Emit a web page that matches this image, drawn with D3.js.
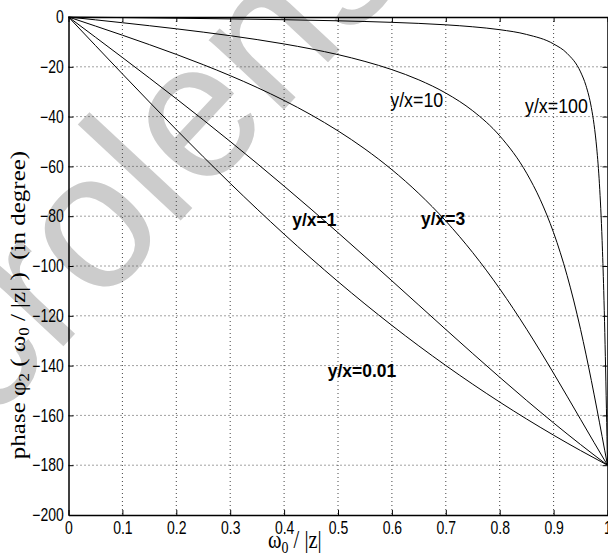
<!DOCTYPE html>
<html>
<head>
<meta charset="utf-8">
<script src="https://cdn.jsdelivr.net/npm/d3@7"></script>
<style>
  body { margin: 0; background: #fff; }
  svg { display: block; }
  text { white-space: pre; }
</style>
</head>
<body>
<svg id="chart" width="608" height="556"></svg>
<script>
// ---------- data ----------
const xTicks = [0, 0.1, 0.2, 0.3, 0.4, 0.5, 0.6, 0.7, 0.8, 0.9, 1];
const xTickLabels = ["0", "0.1", "0.2", "0.3", "0.4", "0.5", "0.6", "0.7", "0.8", "0.9", "1"];
const yTicks = [-200, -180, -160, -140, -120, -100, -80, -60, -40, -20, 0];
const yTickLabels = ["\u2212200", "\u2212180", "\u2212160", "\u2212140", "\u2212120", "\u2212100", "\u221280", "\u221260", "\u221240", "\u221220", "0"];

const seriesNames = ["y/x=0.01", "y/x=1", "y/x=3", "y/x=10", "y/x=100"];

const u_r001 = [0, 0.05, 0.1, 0.15, 0.2, 0.25, 0.3, 0.35, 0.4, 0.45, 0.5, 0.55, 0.6, 0.65, 0.7, 0.75, 0.8, 0.85, 0.9, 0.95, 1];
const phi_r001 = [0, -11.45, -22.84, -34.12, -45.24, -56.14, -66.80, -77.16, -87.21, -96.91, -106.26, -115.24, -123.86, -132.10, -139.97, -147.48, -154.64, -161.46, -167.95, -174.12, -180];

const u_r1 = [0, 0.05, 0.1, 0.15, 0.2, 0.25, 0.3, 0.35, 0.4, 0.45, 0.5, 0.55, 0.6, 0.65, 0.7, 0.75, 0.8, 0.85, 0.9, 0.95, 1];
const phi_r1 = [0, -8.11, -16.26, -24.49, -32.83, -41.32, -49.99, -58.85, -67.92, -77.17, -86.62, -96.23, -105.95, -115.72, -125.49, -135.17, -144.69, -154.00, -163.02, -171.70, -180];

const u_r3 = [0, 0.05, 0.1, 0.15, 0.2, 0.25, 0.3, 0.35, 0.4, 0.45, 0.5, 0.55, 0.6, 0.65, 0.7, 0.75, 0.8, 0.85, 0.9, 0.925, 0.95, 0.975, 1];
const phi_r3 = [0, -3.63, -7.31, -11.09, -15.01, -19.15, -23.56, -28.32, -33.52, -39.28, -45.73, -53.01, -61.33, -70.90, -81.92, -94.63, -109.13, -125.39, -143.08, -152.27, -161.57, -170.84, -180];

const u_r10 = [0, 0.05, 0.1, 0.15, 0.2, 0.25, 0.3, 0.35, 0.4, 0.45, 0.5, 0.55, 0.6, 0.65, 0.7, 0.75, 0.8, 0.85, 0.875, 0.9, 0.925, 0.95, 0.96, 0.97, 0.98, 0.99, 0.995, 1];
const phi_r10 = [0, -1.14, -2.30, -3.50, -4.75, -6.08, -7.51, -9.08, -10.83, -12.81, -15.11, -17.84, -21.14, -25.25, -30.56, -37.68, -47.71, -62.73, -73.23, -86.62, -103.79, -125.44, -135.38, -145.96, -157.04, -168.46, -174.23, -180];

const u_r100 = [0, 0.1, 0.2, 0.3, 0.4, 0.5, 0.6, 0.7, 0.75, 0.8, 0.85, 0.9, 0.925, 0.95, 0.96, 0.97, 0.975, 0.98, 0.985, 0.99, 0.993, 0.995, 0.997, 0.998, 0.999, 1];
const phi_r100 = [0, -0.23, -0.48, -0.76, -1.09, -1.53, -2.15, -3.14, -3.93, -5.09, -7.01, -10.82, -14.60, -22.05, -27.52, -36.34, -43.10, -52.66, -66.98, -89.71, -109.82, -126.75, -146.55, -157.36, -168.57, -180];

const seriesU = [u_r001, u_r1, u_r3, u_r10, u_r100];
const seriesPhi = [phi_r001, phi_r1, phi_r3, phi_r10, phi_r100];

// curve labels
const labelText = ["y/x=0.01", "y/x=1", "y/x=3", "y/x=10", "y/x=100"];
const labelU = [0.481, 0.415, 0.654, 0.597, 0.847];
const labelPhi = [-144.6, -84.0, -83.6, -36.2, -38.6];
const labelBold = [true, true, true, false, false];

const watermark = "crolens";

// ---------- chart ----------
const svg = d3.select("#chart");
const x = d3.scaleLinear().domain([0, 1]).range([68.5, 607.5]);
const y = d3.scaleLinear().domain([-200, 0]).range([515, 17]);

// watermark (behind everything)
svg.append("text")
  .attr("transform", "translate(-12,427) rotate(-47)")
  .attr("font-family", "'Liberation Sans', Arial, sans-serif")
  .attr("font-size", 194)
  .attr("fill", "#cccccc")
  .text(watermark);

// grid
const grid = svg.append("g").attr("stroke", "#444").attr("stroke-width", 1).attr("stroke-dasharray", "1,3");
grid.selectAll("line.gx").data(xTicks.slice(1, -1)).join("line")
  .attr("class", "gx")
  .attr("x1", d => x(d)).attr("x2", d => x(d))
  .attr("y1", y(0)).attr("y2", y(-200));
grid.selectAll("line.gy").data(yTicks.slice(1, -1)).join("line")
  .attr("class", "gy")
  .attr("y1", d => y(d)).attr("y2", d => y(d))
  .attr("x1", x(0)).attr("x2", x(1));

// curves
const line = d3.line().x(d => x(d[0])).y(d => y(d[1])).curve(d3.curveMonotoneX);
seriesNames.forEach((name, i) => {
  const pts = seriesU[i].map((u, k) => [u, seriesPhi[i][k]]);
  svg.append("path")
    .datum(pts)
    .attr("fill", "none")
    .attr("stroke", "#000")
    .attr("stroke-width", 1)
    .attr("d", line);
});

// axes
function styleAxis(g) {
  g.attr("font-family", "'Liberation Sans', Arial, Helvetica, sans-serif").attr("font-size", 17.5);
  g.selectAll(".domain").attr("stroke", "#000").attr("stroke-width", 1.5);
  g.selectAll(".tick line").attr("stroke", "#000").attr("stroke-width", 1);
  g.selectAll(".tick text").attr("fill", "#000");
}
svg.append("g")
  .attr("transform", `translate(0,${y(-200)})`)
  .call(d3.axisBottom(x).tickValues(xTicks).tickFormat((d, i) => xTickLabels[i])
    .tickSizeInner(-5).tickSizeOuter(0).tickPadding(7))
  .call(styleAxis)
  .call(g => g.selectAll(".tick text").attr("transform", "scale(0.8,1)"));

svg.append("g")
  .attr("transform", `translate(${x(0)},0)`)
  .call(d3.axisLeft(y).tickValues(yTicks).tickFormat((d, i) => yTickLabels[i])
    .tickSizeInner(-5).tickSizeOuter(0).tickPadding(6))
  .call(styleAxis)
  .call(g => g.selectAll(".tick text").attr("transform", "scale(0.8,1)"));

svg.append("g")
  .attr("transform", `translate(0,${y(0)})`)
  .call(d3.axisTop(x).tickValues(xTicks).tickFormat(() => "")
    .tickSizeInner(-5).tickSizeOuter(0))
  .call(styleAxis);

svg.append("g")
  .attr("transform", `translate(${x(1)},0)`)
  .call(d3.axisRight(y).tickValues(yTicks).tickFormat(() => "")
    .tickSizeInner(-5).tickSizeOuter(0))
  .call(styleAxis);

// curve labels
labelText.forEach((t, i) => {
  svg.append("text")
    .attr("transform", `translate(${x(labelU[i])},${y(labelPhi[i])}) scale(${labelBold[i] ? 0.92 : 0.89},1)`)
    .attr("font-family", "'Liberation Sans', Arial, Helvetica, sans-serif")
    .attr("font-size", labelBold[i] ? 19 : 20)
    .attr("font-weight", labelBold[i] ? "bold" : "normal")
    .attr("fill", "#000")
    .text(t);
});

// x label
const xl = svg.append("text")
  .attr("transform", "translate(268,548) scale(0.82,1)")
  .attr("font-family", "'Liberation Serif', 'Times New Roman', serif")
  .attr("font-size", 25)
  .attr("fill", "#000");
xl.append("tspan").text("\u03c9");
xl.append("tspan").attr("font-size", 17).attr("dy", 5).text("0");
xl.append("tspan").attr("dy", -5).text(" / |z|");

// y label
const yl = svg.append("text")
  .attr("transform", "translate(25,305) rotate(-90) scale(1,0.85)")
  .attr("text-anchor", "middle")
  .attr("font-family", "'Liberation Serif', 'Times New Roman', serif")
  .attr("font-size", 25)
  .attr("fill", "#000");
yl.append("tspan").text("phase \u03c6");
yl.append("tspan").attr("font-size", 17).attr("dy", 5).text("2");
yl.append("tspan").attr("dy", -5).text(" ( \u03c9");
yl.append("tspan").attr("font-size", 17).attr("dy", 5).text("0");
yl.append("tspan").attr("dy", -5).text(" / |z| )  (in degree)");
</script>
</body>
</html>
